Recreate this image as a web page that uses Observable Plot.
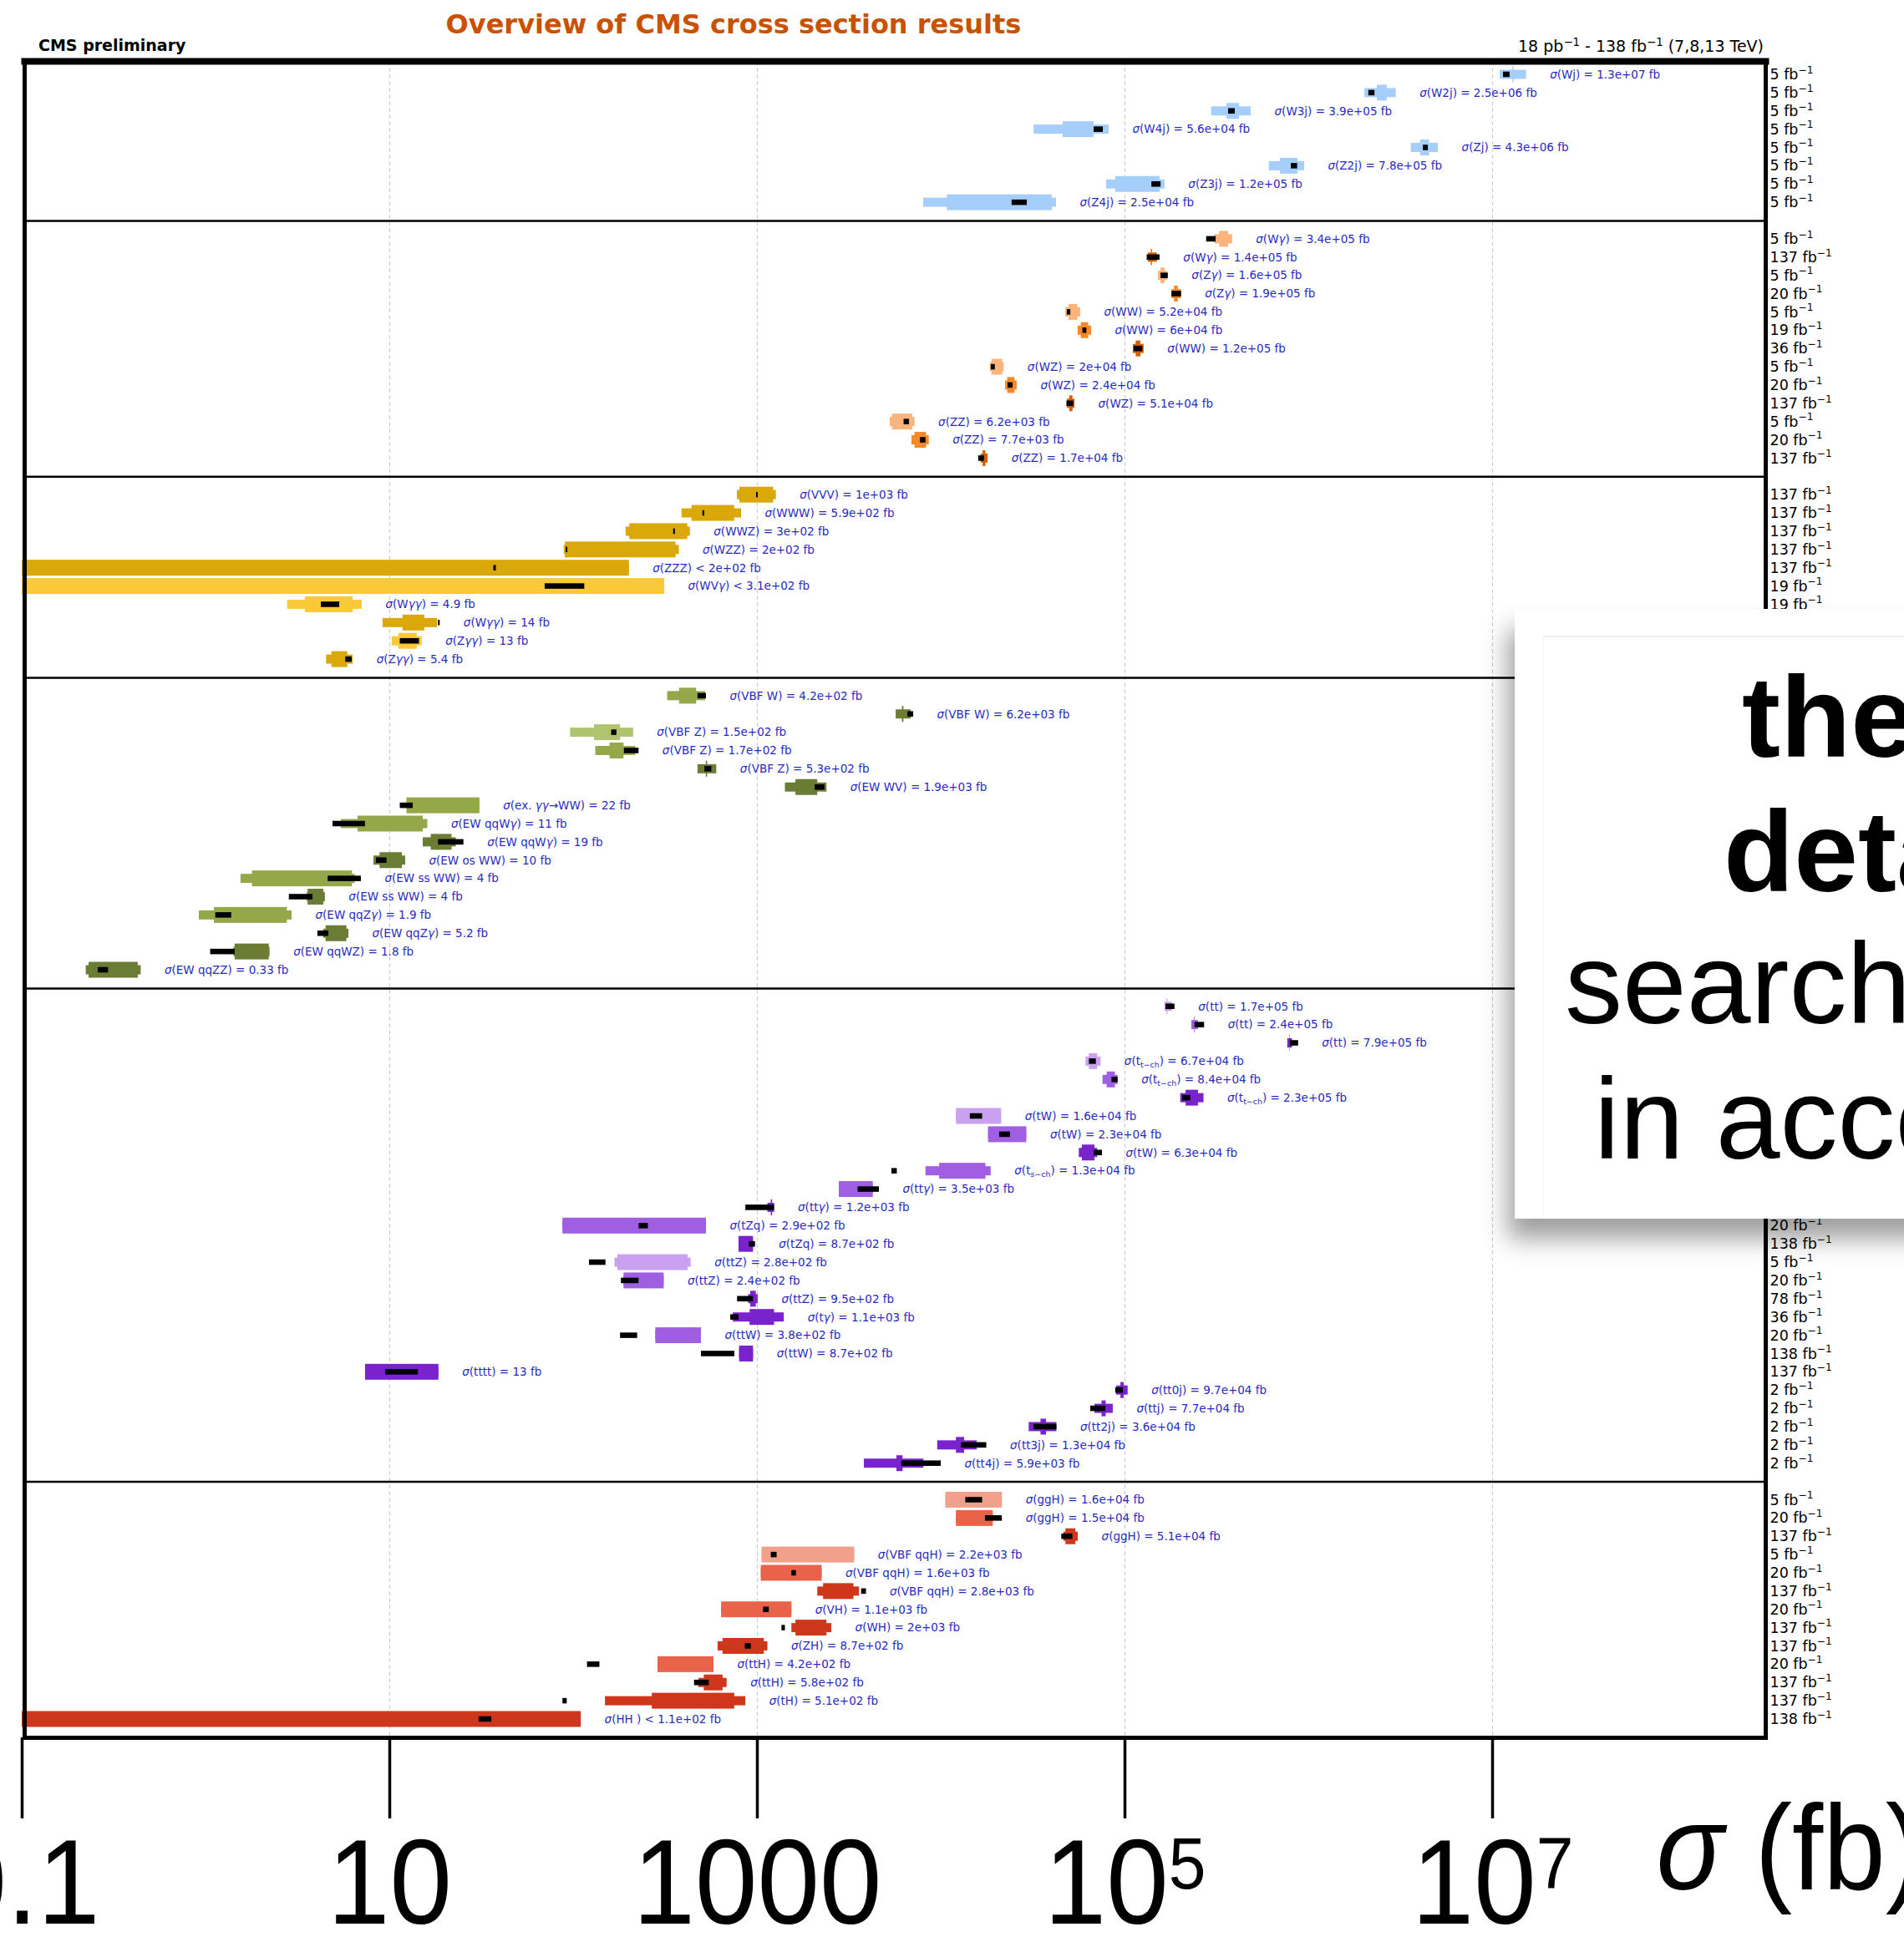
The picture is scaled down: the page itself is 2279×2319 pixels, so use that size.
<!DOCTYPE html>
<html><head><meta charset="utf-8">
<script src="https://cdn.jsdelivr.net/npm/d3@7"></script>
<script src="https://cdn.jsdelivr.net/npm/@observablehq/plot@0.6"></script>
<style>
html,body{margin:0;padding:0;width:2279px;height:2319px;overflow:hidden;background:#fff;}
#chart{position:absolute;left:0;top:0;}
.hdr{position:absolute;white-space:nowrap;font-family:"DejaVu Sans",sans-serif;line-height:1;}
#title{left:878px;top:13px;transform:translateX(-50%);font-size:32px;font-weight:bold;color:#c85200;}
#cms{left:46px;top:45px;font-size:19px;font-weight:bold;color:#000;}
#lumi{right:168px;top:46px;font-size:19px;color:#000;}
#lumi sup{font-size:0.7em;vertical-align:0.5em;line-height:0;}
#card{position:absolute;left:1813px;top:729px;width:800px;height:730px;background:#fff;
  box-shadow:-8px 24px 28px 0 rgba(0,0,0,0.38);}
#card .rule{position:absolute;left:34px;top:32px;right:0;bottom:0;border-top:2px solid #ececec;border-left:1px solid #f6f6f6;}
#card .ln{position:absolute;font-family:"Liberation Sans",Arial,sans-serif;font-size:138px;line-height:138px;white-space:nowrap;color:#000;}
#card .b{font-weight:bold;}
</style></head>
<body>
<div id="chart"></div>
<div class="hdr" id="title">Overview of CMS cross section results</div>
<div class="hdr" id="cms">CMS preliminary</div>
<div class="hdr" id="lumi">18 pb<sup>−1</sup> - 138 fb<sup>−1</sup> (7,8,13 TeV)</div>
<div id="card">
  <div class="rule"></div>
  <div class="ln b" style="left:272px;top:60px">the</div>
  <div class="ln b" style="left:250px;top:221px">deta</div>
  <div class="ln" style="left:60px;top:379px">search</div>
  <div class="ln" style="left:95px;top:541px">in acco</div>
</div>
<script>
// ---------------- DATA ----------------
const panelGroups = ["V", "VV", "VVV", "VBS", "top", "H"];
const panelSizes  = [8, 13, 10, 16, 26, 13];

const labels = [
  // V + jets
  "σ(Wj) = 1.3e+07 fb", "σ(W2j) = 2.5e+06 fb", "σ(W3j) = 3.9e+05 fb", "σ(W4j) = 5.6e+04 fb",
  "σ(Zj) = 4.3e+06 fb", "σ(Z2j) = 7.8e+05 fb", "σ(Z3j) = 1.2e+05 fb", "σ(Z4j) = 2.5e+04 fb",
  // VV
  "σ(Wγ) = 3.4e+05 fb", "σ(Wγ) = 1.4e+05 fb", "σ(Zγ) = 1.6e+05 fb", "σ(Zγ) = 1.9e+05 fb",
  "σ(WW) = 5.2e+04 fb", "σ(WW) = 6e+04 fb", "σ(WW) = 1.2e+05 fb",
  "σ(WZ) = 2e+04 fb", "σ(WZ) = 2.4e+04 fb", "σ(WZ) = 5.1e+04 fb",
  "σ(ZZ) = 6.2e+03 fb", "σ(ZZ) = 7.7e+03 fb", "σ(ZZ) = 1.7e+04 fb",
  // VVV
  "σ(VVV) = 1e+03 fb", "σ(WWW) = 5.9e+02 fb", "σ(WWZ) = 3e+02 fb", "σ(WZZ) = 2e+02 fb",
  "σ(ZZZ) < 2e+02 fb", "σ(WVγ) < 3.1e+02 fb", "σ(Wγγ) = 4.9 fb", "σ(Wγγ) = 14 fb",
  "σ(Zγγ) = 13 fb", "σ(Zγγ) = 5.4 fb",
  // VBF / VBS
  "σ(VBF W) = 4.2e+02 fb", "σ(VBF W) = 6.2e+03 fb", "σ(VBF Z) = 1.5e+02 fb", "σ(VBF Z) = 1.7e+02 fb",
  "σ(VBF Z) = 5.3e+02 fb", "σ(EW WV) = 1.9e+03 fb", "σ(ex. γγ→WW) = 22 fb", "σ(EW qqWγ) = 11 fb",
  "σ(EW qqWγ) = 19 fb", "σ(EW os WW) = 10 fb", "σ(EW ss WW) = 4 fb", "σ(EW ss WW) = 4 fb",
  "σ(EW qqZγ) = 1.9 fb", "σ(EW qqZγ) = 5.2 fb", "σ(EW qqWZ) = 1.8 fb", "σ(EW qqZZ) = 0.33 fb",
  // top
  "σ(tt) = 1.7e+05 fb", "σ(tt) = 2.4e+05 fb", "σ(tt) = 7.9e+05 fb",
  "σ(t_{t−ch}) = 6.7e+04 fb", "σ(t_{t−ch}) = 8.4e+04 fb", "σ(t_{t−ch}) = 2.3e+05 fb",
  "σ(tW) = 1.6e+04 fb", "σ(tW) = 2.3e+04 fb", "σ(tW) = 6.3e+04 fb", "σ(t_{s−ch}) = 1.3e+04 fb",
  "σ(ttγ) = 3.5e+03 fb", "σ(ttγ) = 1.2e+03 fb", "σ(tZq) = 2.9e+02 fb", "σ(tZq) = 8.7e+02 fb",
  "σ(ttZ) = 2.8e+02 fb", "σ(ttZ) = 2.4e+02 fb", "σ(ttZ) = 9.5e+02 fb", "σ(tγ) = 1.1e+03 fb",
  "σ(ttW) = 3.8e+02 fb", "σ(ttW) = 8.7e+02 fb", "σ(tttt) = 13 fb",
  "σ(tt0j) = 9.7e+04 fb", "σ(ttj) = 7.7e+04 fb", "σ(tt2j) = 3.6e+04 fb", "σ(tt3j) = 1.3e+04 fb",
  "σ(tt4j) = 5.9e+03 fb",
  // Higgs
  "σ(ggH) = 1.6e+04 fb", "σ(ggH) = 1.5e+04 fb", "σ(ggH) = 5.1e+04 fb",
  "σ(VBF qqH) = 2.2e+03 fb", "σ(VBF qqH) = 1.6e+03 fb", "σ(VBF qqH) = 2.8e+03 fb",
  "σ(VH) = 1.1e+03 fb", "σ(WH) = 2e+03 fb", "σ(ZH) = 8.7e+02 fb", "σ(ttH) = 4.2e+02 fb",
  "σ(ttH) = 5.8e+02 fb", "σ(tH) = 5.1e+02 fb", "σ(HH ) < 1.1e+02 fb"
];

const lumis = [
  5, 5, 5, 5, 5, 5, 5, 5,
  5, 137, 5, 20, 5, 19, 36, 5, 20, 137, 5, 20, 137,
  137, 137, 137, 137, 137, 19, 19, 137, 19, 137,
  19, 36, 5, 20, 36, 138, 20, 19, 138, 138, 20, 137, 20, 138, 137, 137,
  5, 20, 36, 5, 20, 36, 5, 12, 36, 20, 20, 137, 20, 138, 5, 20, 78, 36, 20, 138, 137, 2, 2, 2, 2, 2,
  5, 20, 137, 5, 20, 137, 20, 137, 137, 20, 137, 137, 138
];

const energies = [ // TeV
  7, 7, 7, 7, 7, 7, 7, 7,
  7, 13, 7, 8, 7, 8, 13, 7, 8, 13, 7, 8, 13,
  13, 13, 13, 13, 13, 8, 8, 13, 8, 13,
  8, 13, 7, 8, 13, 13, 8, 8, 13, 13, 8, 13, 8, 13, 13, 13,
  7, 8, 13, 7, 8, 13, 7, 8, 13, 8, 8, 13, 8, 13, 7, 8, 13, 13, 8, 13, 13, 13, 13, 13, 13, 13,
  7, 8, 13, 7, 8, 13, 8, 13, 13, 8, 13, 13, 13
];

// measurement, total uncertainty band (fb)
const totLo = [
  1.10e7, 2.02e6, 2.96e5, 3.2e4, 3.61e6, 6.1e5, 7.94e4, 8.03e3,
  3.08e5, 1.34e5, 1.52e5, 1.8e5, 4.76e4, 5.56e4, 1.11e5, 1.85e4, 2.24e4, 4.86e4, 5.28e3, 6.93e3, 1.65e4,
  778, 389, 193, 88.9, 0.1, 0.1, 2.78, 9.19, 10.3, 4.53,
  325, 5.69e3, 96.3, 132, 475, 1.42e3, 12.4, 5.45, 15.2, 8.2, 1.55, 3.56, 0.92, 4.37, 1.42, 0.223,
  1.65e5, 2.31e5, 7.68e5, 6.14e4, 7.59e4, 2.01e5, 1.21e4, 1.81e4, 5.64e4, 8.26e3, 2.79e3, 1.14e3, 87.5, 794,
  168, 188, 896, 740, 280, 800, 7.38, 9.0e4, 6.86e4, 3.01e4, 9.57e3, 3.82e3,
  1.06e4, 1.21e4, 4.65e4, 1.06e3, 1.05e3, 2.13e3, 639, 1.54e3, 611, 288, 480, 149, 0.1
];
const totHi = [
  1.53e7, 2.99e6, 4.86e5, 8.2e4, 5.07e6, 9.49e5, 1.65e5, 4.24e4,
  3.85e5, 1.5e5, 1.71e5, 2.03e5, 5.74e4, 6.58e4, 1.27e5, 2.2e4, 2.59e4, 5.34e4, 7.2e3, 8.61e3, 1.8e4,
  1268, 820, 432, 376, 201, 313, 7.08, 18.2, 15.0, 6.32,
  523, 6.87e3, 212, 218, 601, 2.39e3, 30.9, 16.1, 23.0, 12.2, 6.48, 4.46, 2.94, 5.99, 2.23, 0.444,
  1.81e5, 2.51e5, 8.15e5, 7.41e4, 9.17e4, 2.69e5, 2.13e4, 2.92e4, 7.1e4, 1.87e4, 4.27e3, 1.24e3, 528, 952,
  436, 311, 1010, 1400, 496, 952, 18.5, 1.04e5, 8.63e4, 4.26e4, 1.57e4, 8.05e3,
  2.15e4, 1.92e4, 5.57e4, 3.38e3, 2.25e3, 3.59e3, 1540, 2.54e3, 1140, 580, 684, 865, 110
];
// statistical uncertainty band (fb)
const statLo = [
  1.29e7, 2.36e6, 3.59e5, 4.61e4, 4.06e6, 7.0e5, 8.9e4, 1.08e4,
  3.27e5, 1.39e5, 1.57e5, 1.86e5, 4.96e4, 5.78e4, 1.15e5, 1.89e4, 2.3e4, 5.0e4, 5.43e3, 7.2e3, 1.69e4,
  803, 441, 202, 90.1, 0.1, 0.1, 3.47, 11.8, 11.2, 4.84,
  377, 6.15e3, 130, 158, 527, 1.62e3, 12.4, 6.71, 16.8, 8.85, 1.79, 3.59, 1.11, 4.5, 1.44, 0.231,
  1.69e5, 2.39e5, 7.88e5, 6.4e4, 8.0e4, 2.15e5, 1.21e4, 1.81e4, 5.86e4, 9.8e3, 2.79e3, 1.19e3, 87.5, 794,
  174, 188, 920, 912, 280, 800, 7.38, 9.5e4, 7.5e4, 3.49e4, 1.21e4, 5.74e3,
  1.06e4, 1.21e4, 4.77e4, 1.06e3, 1.05e3, 2.29e3, 639, 1.62e3, 650, 288, 514, 268, 0.1
];
const statHi = [
  1.31e7, 2.67e6, 4.2e5, 6.79e4, 4.54e6, 8.73e5, 1.55e5, 4.02e4,
  3.66e5, 1.41e5, 1.65e5, 1.95e5, 5.54e4, 6.35e4, 1.22e5, 2.16e4, 2.52e4, 5.21e4, 7.0e3, 8.32e3, 1.75e4,
  1225, 752, 418, 361, 201, 313, 6.32, 15.5, 14.1, 5.91,
  467, 6.27e3, 180, 188, 536, 2.13e3, 30.9, 15.2, 21.8, 11.7, 6.26, 4.38, 2.77, 5.84, 2.21, 0.428,
  1.71e5, 2.41e5, 7.92e5, 7.1e4, 8.86e4, 2.51e5, 2.13e4, 2.92e4, 6.86e4, 1.75e4, 4.27e3, 1.21e3, 528, 952,
  420, 311, 986, 1240, 496, 952, 18.5, 9.9e4, 7.9e4, 3.74e4, 1.34e4, 6.2e3,
  2.15e4, 1.92e4, 5.4e4, 3.38e3, 2.25e3, 3.35e3, 1540, 2.39e3, 1090, 580, 650, 753, 110
];
// theory prediction band (fb)
const thLo = [
  1.146e7, 2.12e6, 3.66e5, 6.79e4, 4.2e6, 8.03e5, 1.4e5, 2.43e4,
  2.78e5, 1.32e5, 1.57e5, 1.8e5, 4.85e4, 5.9e4, 1.12e5, 1.87e4, 2.31e4, 4.83e4, 6.28e3, 7.7e3, 1.6e4,
  990, 505, 350, 91, 36.8, 70, 4.24, 18.4, 11.4, 5.76,
  475, 6.59e3, 161, 189, 518, 2.06e3, 11.4, 4.91, 18.4, 8.46, 4.62, 2.84, 1.13, 4.06, 1.06, 0.259,
  1.67e5, 2.4e5, 7.94e5, 6.4e4, 8.49e4, 2.06e5, 1.44e4, 2.08e4, 6.79e4, 5.39e3, 3.53e3, 865, 227, 903,
  122, 182, 780, 716, 180, 496, 9.49, 8.9e4, 6.51e4, 3.2e4, 1.29e4, 6.1e3,
  1.36e4, 1.74e4, 4.53e4, 1.19e3, 1.54e3, 3.69e3, 1.08e3, 1.36e3, 859, 119, 455, 87.5, 30.6
];
const thHi = [
  1.245e7, 2.29e6, 3.98e5, 7.62e4, 4.47e6, 8.69e5, 1.57e5, 2.94e4,
  3.13e5, 1.55e5, 1.72e5, 2.03e5, 5.07e4, 6.2e4, 1.25e5, 1.97e4, 2.46e4, 5.26e4, 6.72e3, 8.26e3, 1.72e4,
  1010, 517, 358, 93, 38, 115, 5.34, 18.8, 14.5, 6.24,
  528, 7.08e3, 172, 227, 565, 2.33e3, 13.4, 7.37, 25.3, 9.66, 7.0, 3.82, 1.38, 4.66, 1.44, 0.295,
  1.87e5, 2.71e5, 8.8e5, 6.98e4, 9.17e4, 2.28e5, 1.68e4, 2.38e4, 7.54e4, 5.77e3, 4.61e3, 1.24e3, 255, 977,
  150, 227, 952, 794, 223, 754, 14.3, 9.8e4, 7.86e4, 4.26e4, 1.77e4, 1.0e4,
  1.68e4, 2.15e4, 5.2e4, 1.28e3, 1.63e3, 3.92e3, 1.16e3, 1.42e3, 927, 139, 547, 92.3, 35.9
];

const tickValues = [0.1, 10, 1000, 1e5, 1e7];
const tickLabels = ["0.1", "10", "1000", "10^{5}", "10^{7}"];
const gridValues = [10, 1000, 1e5, 1e7];
const axisTitle = "σ (fb)";

// ---------------- STYLE ----------------
const palette = {
  V:   {7: "#a6cefa", 8: "#a6cefa", 13: "#a6cefa"},
  VV:  {7: "#fdb47c", 8: "#f7882a", 13: "#d45f00"},
  VVV: {7: "#f9c937", 8: "#f9c937", 13: "#dba80a"},
  VBS: {7: "#b0c36e", 8: "#94a849", 13: "#6b7c34"},
  top: {7: "#c9a1ee", 8: "#a05ee3", 13: "#7a23cc"},
  H:   {7: "#f1a08c", 8: "#e8634a", 13: "#cf371d"}
};

// ---------------- BUILD ----------------
const rowIdx = [], rowGroup = [];
let slot = 0;
panelSizes.forEach((n, p) => {
  for (let j = 0; j < n; j++) { rowIdx.push(slot++); rowGroup.push(panelGroups[p]); }
  slot++;
});
const gapIdx = panelSizes.slice(0, -1).map((n, p) => d3.sum(panelSizes.slice(0, p + 1)) + p);

const rows = labels.map((label, i) => ({
  label, idx: rowIdx[i], group: rowGroup[i], energy: energies[i], lumi: lumis[i],
  totLo: totLo[i], totHi: totHi[i], statLo: statLo[i], statHi: statHi[i], thLo: thLo[i], thHi: thHi[i],
  end: Math.max(totHi[i], statHi[i], thHi[i]),
  color: palette[rowGroup[i]][energies[i]]
}));

const W = 2279, H = 2319;
const TALL = 0.434, THIN = 0.25, TH = 0.15;
const BIG = 144;

const chart = Plot.plot({
  width: W, height: H,
  marginLeft: 29, marginRight: W - 2113, marginTop: 73, marginBottom: H - 2080,
  x: {type: "log", domain: [0.1, 1e7], range: [26, 26 + 8 * 220], axis: null},
  y: {domain: [0, 90], range: [89, 2058], axis: null},
  color: {type: "identity"},
  style: {background: "transparent"},
  marks: [
    Plot.gridX(gridValues, {stroke: "#cfcfcf", strokeOpacity: 1, strokeWidth: 1.2, strokeDasharray: "5,3"}),
    Plot.rect(rows, {x1: "totLo", x2: "totHi", y1: d => d.idx - THIN, y2: d => d.idx + THIN, fill: "color"}),
    Plot.rect(rows, {x1: "statLo", x2: "statHi", y1: d => d.idx - TALL, y2: d => d.idx + TALL, fill: "color"}),
    Plot.rect(rows, {x1: "thLo", x2: "thHi", y1: d => d.idx - TH, y2: d => d.idx + TH, fill: "black"}),
    Plot.ruleY(gapIdx, {stroke: "black", strokeWidth: 2.5}),
    Plot.frame({stroke: "black", strokeWidth: 5}),
    Plot.frame({anchor: "top", stroke: "black", strokeWidth: 8}),
    Plot.text(rows, {x: "end", y: "idx", text: "label", dx: 28, textAnchor: "start",
      fontSize: 13.5, fontFamily: "DejaVu Sans", fill: "#2a2abe"}),
    Plot.text(rows, {frameAnchor: "right", y: "idx", text: d => `${d.lumi} fb^{−1}`, dx: 5,
      textAnchor: "start", fontSize: 17.5, fontFamily: "DejaVu Sans", fill: "black"}),
    Plot.axisX({anchor: "bottom", ticks: tickValues, tickFormat: d => tickLabels[tickValues.indexOf(d)],
      tickSize: 97, tickPadding: 23, fontSize: BIG, fontFamily: "Liberation Sans",
      strokeWidth: 3.5, label: null}),
    Plot.text([axisTitle], {frameAnchor: "bottom-right", text: d => d, dx: 1982 - 2113, dy: 181,
      textAnchor: "start", fontSize: BIG, fontFamily: "Liberation Sans", fill: "black"})
  ]
});
document.getElementById("chart").appendChild(chart);

// rich text: sub/superscripts and italic greek
const NS = "http://www.w3.org/2000/svg";
function fontSizeOf(el) {
  let e = el;
  while (e && e.getAttribute) {
    const f = e.getAttribute("font-size");
    if (f) return parseFloat(f);
    e = e.parentNode;
  }
  return 10;
}
function rich(textEl) {
  const F = fontSizeOf(textEl);
  const big = F >= 100;
  if (big) {
    // the reference's axis digits are slightly condensed
    const tr = textEl.getAttribute("transform") || "";
    textEl.setAttribute("transform", tr + " scale(0.93,1)");
  }
  const s = textEl.textContent;
  if (!/[_^σγ]/.test(s)) return;
  const supSize = big ? 0.6 : 0.7, supShift = big ? 0.29 : 0.42;
  const subSize = 0.7, subShift = 0.22;
  const parts = s.split(/(_\{[^}]*\}|\^\{[^}]*\}|[σγ])/).filter(p => p !== "");
  textEl.textContent = "";
  let shift = 0;
  for (const p of parts) {
    const t = document.createElementNS(NS, "tspan");
    let target = 0, content = p, size = null, italic = false;
    if (p.startsWith("_{")) { content = p.slice(2, -1); target = subShift * F; size = subSize; }
    else if (p.startsWith("^{")) { content = p.slice(2, -1); target = -supShift * F; size = supSize; }
    else if (p === "σ" || p === "γ") italic = true;
    if (target !== shift) { t.setAttribute("dy", target - shift); shift = target; }
    if (size) t.setAttribute("font-size", size * F);
    if (italic) t.setAttribute("font-style", "italic");
    t.textContent = content;
    textEl.appendChild(t);
  }
}
chart.querySelectorAll("text").forEach(rich);
</script>
</body></html>
